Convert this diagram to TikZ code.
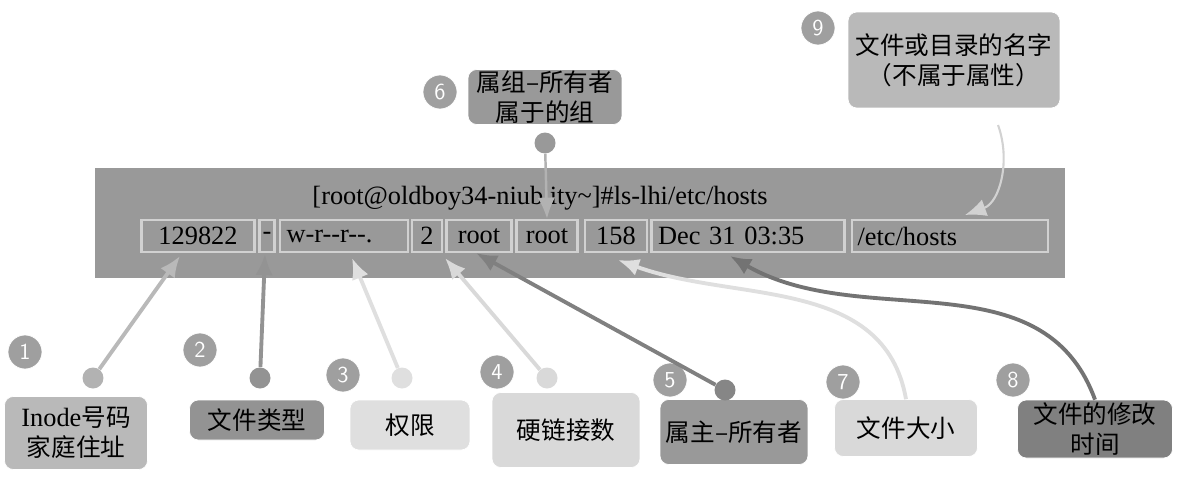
\documentclass[tikz,border=0pt]{standalone}
\usepackage{fontspec}
\setmainfont{Liberation Serif}
\newfontfamily\cjk{Noto Sans CJK SC}
\usetikzlibrary{arrows.meta}
\definecolor{band}{gray}{0.6}
\definecolor{cellline}{gray}{0.82}
\tikzset{
  cell/.style={draw=cellline,line width=1.5pt,fill=band,minimum height=0.64cm,inner sep=0pt,font=\fontsize{15}{17}\selectfont},
  tag/.style={rounded corners=5pt,draw=white,align=center,font=\cjk\fontsize{14}{17}\selectfont,inner sep=0pt},
  num/.style={circle,fill=gray!75,draw=white,text=white,minimum size=0.68cm,inner sep=0pt,font=\sffamily\fontsize{13}{13}\selectfont},
  dot/.style={circle,minimum size=0.42cm,inner sep=0pt},
  pointer/.style={line width=2.2pt,-{Latex[length=12pt,width=10pt]}}
}
\begin{document}
\begin{tikzpicture}[x=0.02cm,y=-0.02cm]
        \useasboundingbox (0,0) rectangle (1182,480);
        % Command band
        \fill[band] (95,168) rectangle (1065,278);
        \node (cmd) at (540,198) {\fontsize{15}{17}\selectfont [root@oldboy34-niub.ity\textasciitilde]\#ls-lhi/etc/hosts};
    
        % Fields of the listing
        \node[cell,minimum width=2.26cm] (inode) at (198,236) {129822};
        \node[cell,minimum width=0.3cm] (type) at (267,236) {-};
        \node[cell,minimum width=2.56cm,text width=2.3cm] (perm) at (344,236) {w-r{-}{-}r{-}{-}.};
        \node[cell,minimum width=0.6cm] (links) at (427,236) {2};
        \node[cell,minimum width=1.3cm] (owner) at (479,236) {root};
        \node[cell,minimum width=1.22cm] (group) at (547,236) {root};
        \node[cell,minimum width=1.24cm] (size) at (616,236) {158};
        \node[cell,minimum width=3.86cm,text width=3.6cm] (mtime) at (748,236) {Dec 31 03:35};
        \node[cell,minimum width=3.92cm,text width=3.7cm] (name) at (950,236) {/etc/hosts};
    
        % Labels below
        \node[tag,fill=gray!55,minimum width=2.86cm,minimum height=1.46cm] (lbinode) at (76,433) {{\rmfamily\fontsize{15}{17}\selectfont Inode}号码\\家庭住址};
        \node[tag,fill=gray!85,minimum width=2.7cm,minimum height=0.8cm] (lbtype) at (257,420) {文件类型};
        \node[tag,fill=gray!25,minimum width=2.4cm,minimum height=1cm] (lbperm) at (410,425) {权限};
        \node[tag,fill=gray!30,minimum width=2.96cm,minimum height=1.5cm] (lblinks) at (566,430) {硬链接数};
        \node[tag,fill=gray!80,minimum width=2.96cm,minimum height=1.3cm] (lbowner) at (734,432) {属主–所有者};
        \node[tag,fill=gray!30,minimum width=2.86cm,minimum height=1.14cm] (lbsize) at (906,428) {文件大小};
        \node[tag,fill=gray!100,minimum width=3.1cm,minimum height=1.16cm] (lbmtime) at (1095,429) {文件的修改\\时间};
    
        % Labels above
        \node[tag,fill=gray!80,minimum width=3.08cm,minimum height=1.1cm] (lbgroup) at (545,97) {属组–所有者\\属于的组};
        \node[tag,fill=gray!55,minimum width=4.24cm,minimum height=1.92cm] (lbname) at (954,60) {文件或目录的名字\\（不属于属性）};
    
        % Numbers
        \node[num] (n1) at (25,352) {1};
        \node[num] (n2) at (200,350) {2};
        \node[num] (n3) at (343,375) {3};
        \node[num] (n4) at (497,372) {4};
        \node[num] (n5) at (670,380) {5};
        \node[num] (n6) at (440,92) {6};
        \node[num] (n7) at (843,382) {7};
        \node[num] (n8) at (1013,380) {8};
        \node[num] (n9) at (818,28) {9};
    
        % Dots
        \node[dot,fill=gray!60] (d1) at (93,378) {};
        \node[dot,fill=gray!85] (d2) at (260,378) {};
        \node[dot,fill=gray!25] (d3) at (402,378) {};
        \node[dot,fill=gray!30] (d4) at (547,378) {};
        \node[dot,fill=gray!95] (d5) at (725,390) {};
        \node[dot,fill=gray!80] (d6) at (545,143) {};
    
        % Pointers
        \draw[pointer,gray!55] (d1) -- (180,256);
        \draw[pointer,gray!85] (d2) -- (265,254);
        \draw[pointer,gray!25] (d3) -- (352,258);
        \draw[pointer,gray!30] (d4) -- (445,258);
        \draw[pointer,gray!100] (d5) -- (476,253);
        \draw[pointer,gray!60,line width=1.4pt] (d6) -- (group.north);
        \draw[pointer,gray!25] (lbsize.north) to[out=100,in=-20] (618,260);
        \draw[pointer,gray!110] (lbmtime.north) to[out=110,in=-30] (730,256);
        \draw[pointer,gray!35,line width=1.2pt] (998,125) to[out=-70,in=20] (965,215);
    
    \end{tikzpicture}
\end{document}
